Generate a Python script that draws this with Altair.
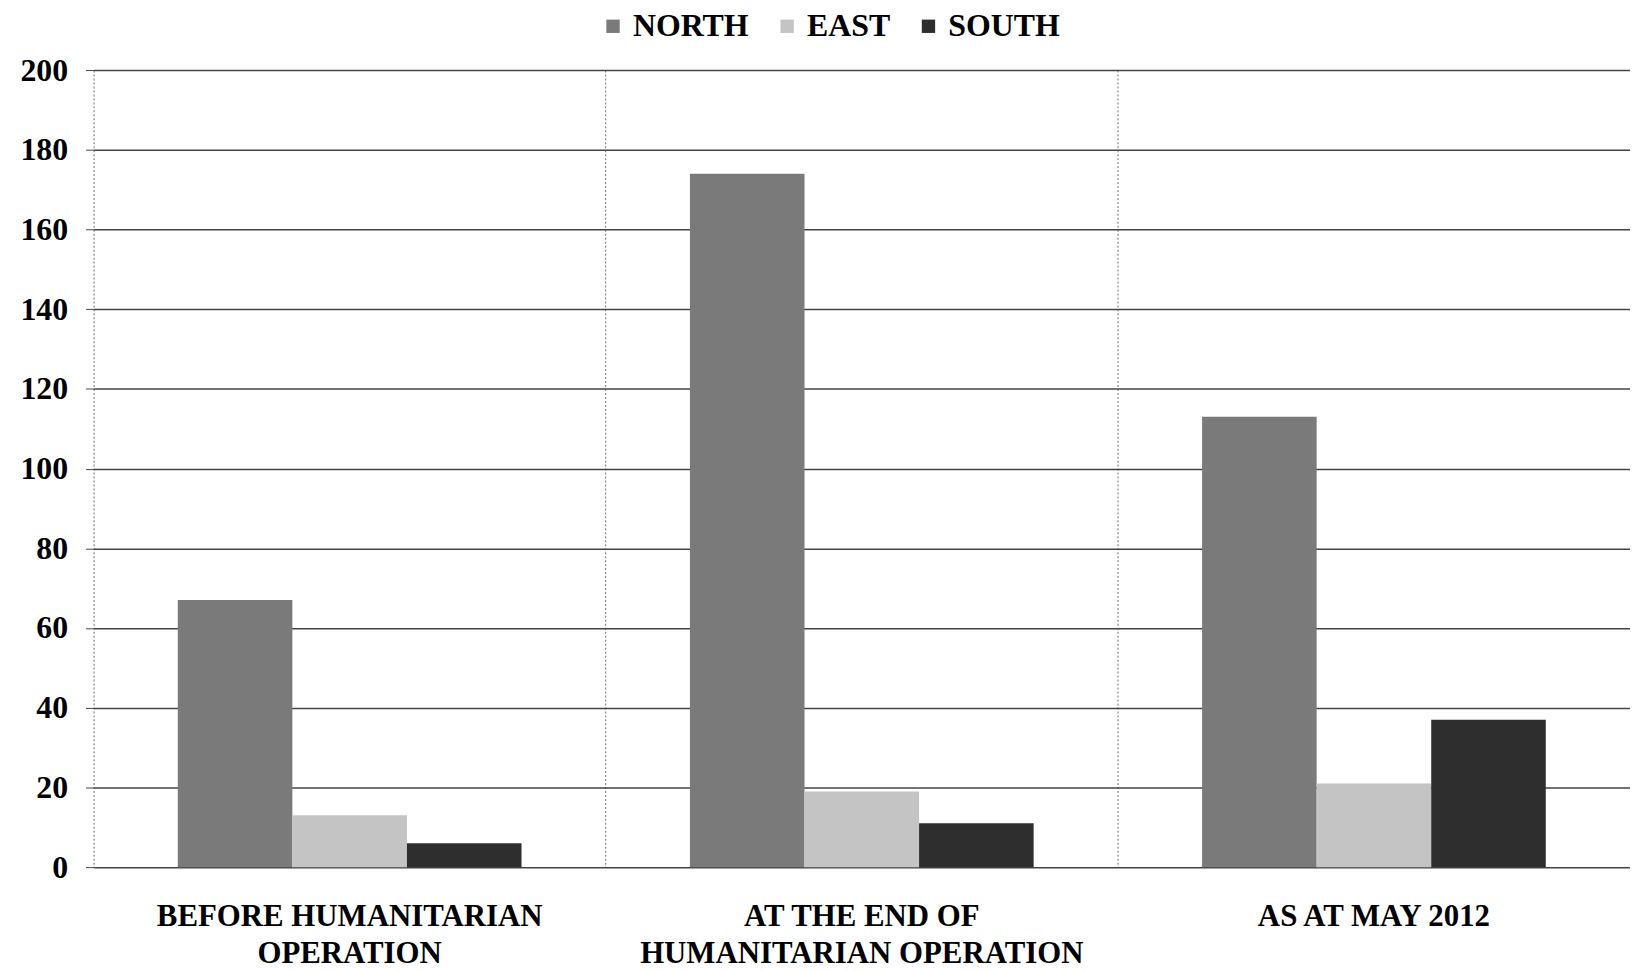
import altair as alt
import pandas as pd

categories = ["BEFORE HUMANITARIAN|OPERATION", "AT THE END OF|HUMANITARIAN OPERATION", "AS AT MAY 2012"]
regions = ["NORTH", "EAST", "SOUTH"]
north = [67, 174, 113]
east = [13, 19, 21]
south = [6, 11, 37]
y_ticks = [0, 20, 40, 60, 80, 100, 120, 140, 160, 180, 200]
colors = ["#7a7a7a", "#c4c4c4", "#2e2e2e"]

rows = []
for i, c in enumerate(categories):
    for r, vals in zip(regions, [north, east, south]):
        rows.append({"category": c, "region": r, "value": vals[i]})
df = pd.DataFrame(rows)

FONT = "Liberation Serif"

chart = alt.Chart(df).mark_bar(strokeWidth=0).encode(
    x=alt.X("category:N", sort=categories, title=None,
            scale=alt.Scale(paddingInner=0, paddingOuter=0),
            axis=alt.Axis(labelExpr="split(datum.label, '|')", labelAngle=0,
                          labelFont=FONT, labelFontWeight="bold", labelFontSize=31,
                          labelColor="#000", labelLineHeight=37, labelPadding=35,
                          labelBaseline="top", labelLimit=0,
                          domain=False, ticks=False, grid=True, bandPosition=0,
                          gridColor="#888", gridDash=[2, 2], gridWidth=1.2)),
    xOffset=alt.XOffset("region:N", sort=regions,
                        scale=alt.Scale(paddingInner=0, paddingOuter=0.735)),
    y=alt.Y("value:Q", title=None,
            scale=alt.Scale(domain=[0, 200], nice=False),
            axis=alt.Axis(values=y_ticks, labelFont=FONT, labelFontWeight="bold",
                          labelFontSize=32, labelColor="#000", labelPadding=18,
                          tickSize=8, tickColor="#444", domain=False,
                          gridColor="#444", gridWidth=1.5)),
    color=alt.Color("region:N", sort=regions,
                    scale=alt.Scale(domain=regions, range=colors),
                    legend=alt.Legend(title=None, orient="none", direction="horizontal",
                                      legendX=506, legendY=-60,
                                      labelFont=FONT, labelFontWeight="bold",
                                      labelFontSize=32, labelColor="#000",
                                      symbolType="square", symbolSize=180,
                                      symbolStrokeWidth=0, labelOffset=4,
                                      columnPadding=22, labelLimit=0)),
).properties(
    width=1544, height=801,
    autosize=alt.AutoSizeParams(type="none"),
    padding={"left": 86, "top": 60, "right": 0, "bottom": 100},
).configure_view(stroke=None)

chart.save("out.html", embed_options={"renderer": "svg", "actions": False})
